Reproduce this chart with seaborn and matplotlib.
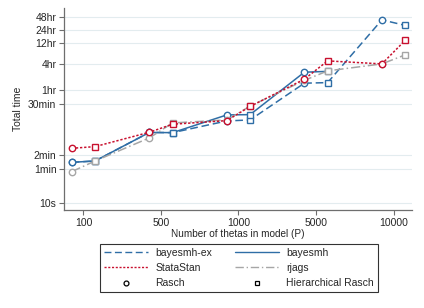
import pandas as pd
import numpy as np
import matplotlib
matplotlib.use('Agg')
import matplotlib.pyplot as plt
import seaborn as sns
from matplotlib.lines import Line2D

# data (seconds)
thetas = ['100', '500', '1000', '5000', '10000']
models = ['Rasch', 'Hierarchical Rasch']

bayesmh_ex_rasch = [83, 397, 726, 5250, 145000]
bayesmh_ex_hier = [89, 393, 765, 5410, 108700]
bayesmh_rasch = [83, 397, 995, 9340, np.nan]
bayesmh_hier = [89, 393, 1010, 9750, np.nan]
statastan_rasch = [173, 401, 738, 6470, 14430]
statastan_hier = [189, 611, 1553, 16900, 49500]
rjags_rasch = [51, 298, 765, 6080, 14430]
rjags_hier = [89, 654, 1580, 10000, 23130]

ytick_vals = [10, 60, 120, 1800, 3600, 14400, 43200, 86400, 172800]
ytick_labels = ['10s', '1min', '2min', '30min', '1hr', '4hr', '12hr', '24hr', '48hr']

series = {
    'bayesmh-ex': (bayesmh_ex_rasch, bayesmh_ex_hier),
    'bayesmh': (bayesmh_rasch, bayesmh_hier),
    'rjags': (rjags_rasch, rjags_hier),
    'StataStan': (statastan_rasch, statastan_hier),
}

rows = []
for sw, (ra, hi) in series.items():
    for i, t in enumerate(thetas):
        rows.append(dict(software=sw, model='Rasch', x=i + 1 - 0.15, time=ra[i]))
        rows.append(dict(software=sw, model='Hierarchical Rasch', x=i + 1 + 0.15, time=hi[i]))
df = pd.DataFrame(rows).dropna()

blue = '#2f6ea6'
red = '#c8102e'
gray = '#a6a6a6'
styles = {
    'bayesmh-ex': dict(color=blue, dashes=(5, 2.5)),
    'bayesmh': dict(color=blue, dashes=()),
    'rjags': dict(color=gray, dashes=(6, 2, 1, 2)),
    'StataStan': dict(color=red, dashes=(1.5, 1.2)),
}
marks = {'Rasch': 'o', 'Hierarchical Rasch': 's'}

sns.set_style('white')
plt.rcParams['font.family'] = ['Liberation Sans', 'DejaVu Sans']

fig = plt.figure(figsize=(4.24, 3.08), dpi=100)
ax = fig.add_axes([0.151, 0.318, 0.821, 0.656])

for sw in series:
    d = df[df.software == sw].sort_values('x')
    st = styles[sw]
    line = ax.plot(d.x, d.time, color=st['color'], lw=1.1)[0]
    if st['dashes']:
        line.set_dashes(st['dashes'])
    for m, mk in marks.items():
        dm = d[d.model == m]
        sns.lineplot(data=dm, x='x', y='time', ax=ax, linestyle='none', marker=mk,
                     markersize=4.6, markerfacecolor='white', markeredgecolor=st['color'],
                     markeredgewidth=1.0, color=st['color'], estimator=None)

ax.set_yscale('log')
ax.set_ylim(6.8, 2.7e5)
ax.set_xlim(0.75, 5.24)
ax.set_yticks(ytick_vals)
ax.set_yticklabels(ytick_labels)
ax.minorticks_off()
ax.set_xticks(range(1, 6))
ax.set_xticklabels(thetas)
ax.grid(axis='y', color='#e3ecef', lw=0.8)
ax.set_axisbelow(True)
for s in ['top', 'right']:
    ax.spines[s].set_visible(False)
for s in ['left', 'bottom']:
    ax.spines[s].set_color('#6e6e6e')
    ax.spines[s].set_linewidth(0.9)
ax.tick_params(axis='both', direction='out', length=3.5, width=0.8, color='#6e6e6e',
               labelsize=7.5, pad=2, left=True, bottom=True)
ax.set_xlabel('Number of thetas in model (P)', fontsize=7.2, labelpad=1)
ax.set_ylabel('Total time', fontsize=7.5, labelpad=4)

handles = [
    Line2D([], [], color=blue, lw=1, dashes=(5, 2.5)),
    Line2D([], [], color=red, lw=1, dashes=(1.5, 1.2)),
    Line2D([], [], color='black', ls='none', marker='o', mfc='white', ms=3.5, mew=0.9),
    Line2D([], [], color=blue, lw=1),
    Line2D([], [], color=gray, lw=1, dashes=(6, 2, 1, 2)),
    Line2D([], [], color='black', ls='none', marker='s', mfc='white', ms=3.5, mew=0.9),
]
labels = ['bayesmh-ex', 'StataStan', 'Rasch', 'bayesmh', 'rjags', 'Hierarchical Rasch']
leg = fig.legend(handles, labels, ncol=2, loc='center', bbox_to_anchor=(0.564, 0.13),
                 fontsize=7.5, frameon=True, fancybox=False, edgecolor='black',
                 handlelength=4.2, columnspacing=2.2, labelspacing=0.5, borderpad=0.4,
                 handletextpad=0.7)
leg.get_frame().set_linewidth(0.8)

fig.savefig('out.png', dpi=100)
